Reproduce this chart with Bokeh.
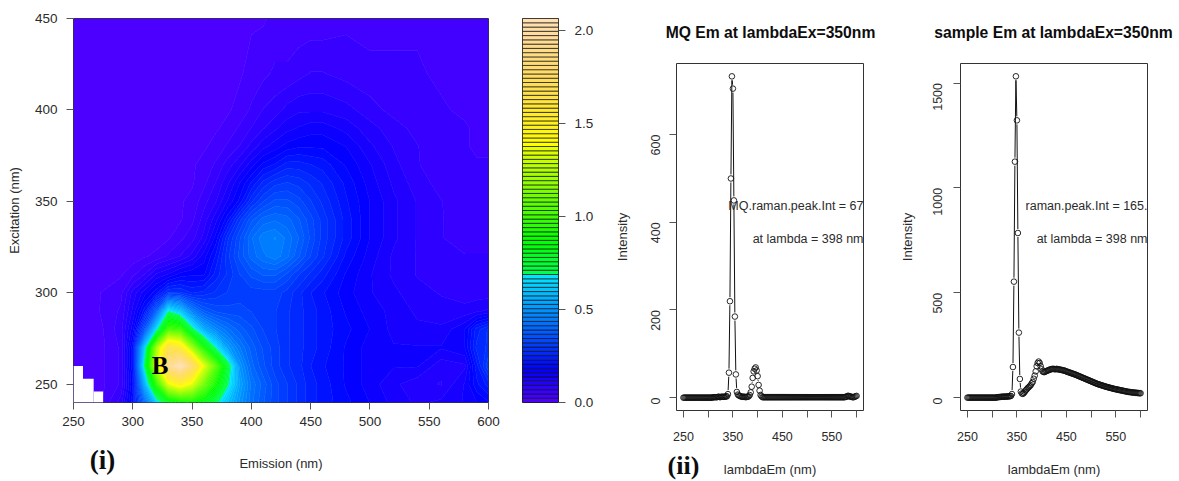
import colorsys
import math
from bokeh.embed import file_html
from bokeh.models import FixedTicker, Label, NumeralTickFormatter, Range1d
from bokeh.plotting import figure
from bokeh.resources import INLINE

# ---------- fluorescence map ----------
emission = [250,270,290,300,310,320,330,340,350,360,370,380,390,400,410,420,430,440,450,460,480,500,520,540,560,580,590,600]
excitation = [240,250,260,270,280,290,300,310,320,330,340,350,360,370,380,390,400,420,450]
z_240 = [.01,.01,.08,.20,.40,.62,.78,.85,.88,.82,.71,.60,.50,.42,.37,.33,.30,.27,.24,.22,.19,.16,.13,.11,.12,.14,.16,.18]
z_250 = [.01,.01,.05,.18,.55,.95,1.35,1.48,1.35,1.10,.90,.70,.53,.43,.38,.33,.30,.27,.24,.22,.18,.15,.12,.10,.09,.14,.20,.24]
z_260 = [.01,.01,.05,.20,.70,1.30,1.90,2.06,1.80,1.35,1.05,.75,.50,.40,.35,.31,.28,.26,.23,.21,.18,.15,.14,.14,.10,.11,.22,.32]
z_270 = [.01,.01,.05,.20,.62,1.20,1.65,1.55,1.20,.90,.68,.52,.44,.38,.34,.31,.28,.26,.24,.22,.18,.15,.14,.14,.14,.16,.26,.28]
z_280 = [.01,.01,.06,.15,.35,.65,1.00,.98,.72,.55,.47,.42,.38,.35,.32,.30,.28,.26,.24,.22,.19,.16,.13,.12,.12,.16,.24,.28]
z_290 = [.01,.02,.05,.12,.22,.38,.68,.60,.45,.37,.34,.33,.33,.32,.31,.30,.28,.26,.24,.22,.18,.15,.13,.11,.10,.10,.11,.12]
z_300 = [.01,.02,.04,.10,.15,.20,.28,.28,.25,.26,.28,.30,.31,.31,.31,.31,.29,.26,.23,.21,.17,.14,.12,.10,.09,.08,.08,.08]
z_310 = [.01,.01,.02,.04,.07,.12,.14,.17,.18,.18,.24,.28,.32,.35,.37,.37,.34,.30,.27,.24,.18,.14,.11,.09,.08,.07,.07,.07]
z_320 = [.01,.01,.01,.01,.02,.03,.05,.07,.10,.15,.21,.29,.35,.40,.43,.45,.42,.37,.32,.28,.20,.15,.11,.09,.08,.07,.07,.07]
z_330 = [.01,.01,.01,.01,.01,.01,.02,.04,.06,.10,.17,.27,.34,.41,.45,.46,.43,.39,.34,.29,.22,.16,.12,.09,.07,.06,.06,.06]
z_340 = [.01,.01,.01,.01,.01,.01,.01,.02,.04,.08,.13,.20,.29,.36,.40,.41,.40,.37,.33,.29,.22,.16,.12,.09,.07,.06,.05,.05]
z_350 = [.01,.01,.01,.01,.01,.01,.01,.02,.03,.06,.09,.14,.19,.27,.32,.35,.35,.33,.30,.27,.21,.16,.12,.09,.07,.05,.05,.05]
z_360 = [.01,.01,.01,.01,.01,.01,.01,.01,.02,.04,.07,.11,.16,.21,.26,.29,.30,.29,.27,.25,.20,.15,.11,.08,.06,.05,.05,.05]
z_370 = [.01,.01,.01,.01,.01,.01,.01,.01,.02,.03,.05,.08,.11,.15,.19,.21,.24,.24,.23,.22,.18,.14,.10,.07,.06,.05,.05,.05]
z_380 = [.01,.01,.01,.01,.01,.01,.01,.01,.01,.02,.03,.05,.07,.10,.13,.15,.17,.18,.18,.18,.16,.12,.09,.07,.05,.05,.04,.04]
z_390 = [.01,.01,.01,.01,.01,.01,.01,.01,.01,.01,.02,.03,.05,.07,.09,.11,.13,.14,.15,.15,.13,.10,.08,.06,.05,.05,.04,.04]
z_400 = [.01,.01,.01,.01,.01,.01,.01,.01,.01,.01,.01,.02,.03,.05,.07,.08,.10,.11,.11,.11,.10,.08,.06,.05,.05,.04,.04,.04]
z_420 = [.01,.01,.01,.01,.01,.01,.01,.01,.01,.01,.01,.01,.02,.03,.04,.05,.05,.06,.07,.07,.06,.05,.05,.05,.04,.04,.04,.04]
z_450 = [.01,.01,.01,.01,.01,.01,.01,.01,.01,.01,.01,.01,.01,.02,.02,.03,.03,.03,.03,.03,.04,.04,.04,.04,.04,.04,.04,.04]
z_rows = [z_240,z_250,z_260,z_270,z_280,z_290,z_300,z_310,z_320,z_330,z_340,z_350,z_360,z_370,z_380,z_390,z_400,z_420,z_450]
z_max = 2.065
n_levels = 90

mask_left = [250, 258, 267]
mask_right = [258, 267, 275]
mask_top = [260, 253, 246]

# ---------- emission scans, every 2 nm from 250 to 600 nm ----------
scan_em = list(range(250, 601, 2))
mq_intensity = [
    0,0,0,0,0,0,0,0,0,0,0,0,0,0,0,0,0,0,0,0,0,0,0,0,0,0,0,0,0,0,
    1,1,1,1,1,2,2,1,2,2,2,2,2,3,3,
    8,57,220,500,733,705,450,185,53,13,7,5,4,3,2,2,2,2,1,2,2,3,
    6,12,25,45,60,66,69,62,49,29,16,6,3,1,
    1,1,1,1,1,1,1,1,1,1,1,1,1,1,1,1,1,1,1,1,1,1,1,1,1,1,1,1,1,1,
    1,1,1,1,1,1,1,1,1,1,1,1,1,1,1,1,1,1,1,1,1,1,1,1,1,1,1,1,1,1,
    1,1,1,1,1,1,1,1,1,1,1,1,1,1,1,1,1,1,1,
    1,1,1,1,2,2,4,4,3,2,2,1,1,2,3,4]
sample_intensity = [
    0,0,0,0,0,0,0,0,0,0,0,0,0,0,0,0,0,0,0,0,0,0,0,0,0,0,0,0,0,0,
    2,2,3,3,4,4,5,4,5,5,5,6,6,7,8,
    17,146,553,1125,1532,1322,785,310,89,29,20,18,22,28,35,40,46,50,55,60,68,75,
    90,105,125,150,165,172,165,150,135,125,122,122,125,127,129,131,133,135,136,137,137,136,135,
    137,136,135,134,133,132,131,130,129,127,125,123,122,120,118,117,115,113,112,110,
    108,106,104,102,100,98,96,94,92,90,88,86,84,82,80,78,76,74,72,70,
    68,66,64,63,61,60,58,57,55,54,52,51,50,48,47,46,45,43,42,41,
    40,39,38,37,36,35,34,33,32,31,30,29,28,27,27,26,25,25,24,24,23,23,22,22,21,21]

mq_title = "MQ Em at lambdaEx=350nm"
sample_title = "sample Em at lambdaEx=350nm"
mq_note = "MQ.raman.peak.Int = 67"
sample_note = "raman.peak.Int = 165."
lambda_note = "at lambda = 398 nm"

FONT = "Liberation Sans"
SERIF = "Liberation Serif"
INK = "#2b2b2b"


def topo_colors(n):
    """R's topo.colors palette"""
    k = n // 3
    i = n - 2 * k
    out = []
    def lin(a, b, m, t):
        return a + (b - a) * t / (m - 1)
    for t in range(i):
        out.append((lin(43, 31, i, t) / 60, 1, 1))
    for t in range(k):
        out.append((lin(23, 11, k, t) / 60, 1, 1))
    for t in range(k):
        out.append((lin(10, 6, k, t) / 60, lin(1, .3, k, t), 1))
    res = []
    for h, s, v in out:
        r, g, b = colorsys.hsv_to_rgb(h, s, v)
        res.append("#%02X%02X%02X" % (round(r * 255), round(g * 255), round(b * 255)))
    return res


def style_axis(ax, size="13.5px"):
    ax.major_label_text_font = FONT
    ax.major_label_text_font_size = size
    ax.major_label_text_color = INK
    ax.axis_label_text_font = FONT
    ax.axis_label_text_font_size = "13px"
    ax.axis_label_text_font_style = "normal"
    ax.axis_label_text_color = INK
    ax.axis_line_color = None
    ax.major_tick_line_color = "#555555"
    ax.major_tick_in = 0
    ax.major_tick_out = 7
    ax.minor_tick_line_color = None


def place(left, top=8):
    return {"position": "absolute", "left": f"{left}px", "top": f"{top}px"}


levels = [z_max * t / n_levels for t in range(n_levels + 1)]
palette = topo_colors(n_levels)

# ---------- map ----------
heat = figure(width=515, height=473, x_range=Range1d(250, 600), y_range=Range1d(240, 450),
              output_backend="svg", toolbar_location=None, styles=place(0),
              min_border_left=73, min_border_right=27, min_border_top=10, min_border_bottom=79)
heat.contour(emission, excitation, z_rows, levels, fill_color=palette,
             line_color=palette + [palette[-1]], line_width=0.8)
heat.quad(left=mask_left, right=mask_right, bottom=240, top=mask_top, fill_color="white", line_color=None)
heat.grid.visible = False
heat.outline_line_color = "#333333"
style_axis(heat.xaxis[0])
style_axis(heat.yaxis[0])
heat.xaxis[0].ticker = FixedTicker(ticks=[250, 300, 350, 400, 450, 500, 550, 600])
heat.yaxis[0].ticker = FixedTicker(ticks=[250, 300, 350, 400, 450])
heat.xaxis[0].axis_label = "Emission (nm)"
heat.yaxis[0].axis_label = "Excitation (nm)"
heat.xaxis[0].major_label_standoff = 7
heat.xaxis[0].axis_label_standoff = 27
heat.yaxis[0].major_label_standoff = 9
heat.yaxis[0].axis_label_standoff = 10
heat.add_layout(Label(x=323, y=260, text="B", text_font=SERIF, text_font_style="bold", text_font_size="25px",
                      text_color="black", text_align="center", text_baseline="middle"))

# ---------- colour key ----------
key = figure(width=95, height=473, x_range=Range1d(0, 1), y_range=Range1d(0, z_max),
             output_backend="svg", toolbar_location=None, y_axis_location="right", styles=place(515),
             min_border_left=7, min_border_right=52, min_border_top=10, min_border_bottom=79)
key.quad(left=0, right=1, bottom=levels[:-1], top=levels[1:], fill_color=palette,
         line_color="#111111", line_alpha=0.85, line_width=0.8)
key.grid.visible = False
key.xaxis.visible = False
key.outline_line_color = "#222222"
style_axis(key.yaxis[0])
key.yaxis[0].ticker = FixedTicker(ticks=[0, .5, 1, 1.5, 2])
key.yaxis[0].formatter = NumeralTickFormatter(format="0.0")
key.yaxis[0].major_label_standoff = 9


def scan(page_left, width, left, right, em, inten, ylim, yticks, note, sub_y, tick_gap, label_gap):
    p = figure(width=width, height=461, x_range=Range1d(236, 614), y_range=Range1d(*ylim),
               output_backend="svg", toolbar_location=None, styles=place(page_left, 20),
               min_border_left=left, min_border_right=right, min_border_top=43, min_border_bottom=71)
    p.grid.visible = False
    p.outline_line_color = "#333333"
    # R "b" type: segments stop short of the points
    fw, fh = 187.0, 347.0
    sx = fw / (614 - 236)
    sy = fh / (ylim[1] - ylim[0])
    gap = 4.0
    x0, x1, y0, y1 = [], [], [], []
    for a, b, c, d in zip(em[:-1], em[1:], inten[:-1], inten[1:]):
        dx, dy = (b - a) * sx, (d - c) * sy
        L = math.hypot(dx, dy)
        if L <= 2 * gap:
            continue
        f = gap / L
        x0.append(a + (b - a) * f); x1.append(b - (b - a) * f)
        y0.append(c + (d - c) * f); y1.append(d - (d - c) * f)
    p.segment(x0, y0, x1, y1, line_color="#111111", line_width=1)
    p.scatter(em, inten, size=5.6, marker="circle", fill_color=None, line_color="#111111", line_width=0.9)
    xa, ya = p.xaxis[0], p.yaxis[0]
    style_axis(xa, "12.5px")
    style_axis(ya, "12.5px")
    xa.ticker = FixedTicker(ticks=[250, 300, 350, 400, 450, 500, 550, 600])
    xa.major_label_overrides = {300: "", 400: "", 500: "", 600: ""}
    ya.ticker = FixedTicker(ticks=yticks)
    ya.major_label_orientation = math.pi / 2
    xa.axis_label = "lambdaEm (nm)"
    ya.axis_label = "Intensity"
    xa.major_label_standoff = 14
    xa.axis_label_standoff = 18
    ya.major_label_standoff = tick_gap
    ya.axis_label_standoff = label_gap
    for txt, yv in ((note, sub_y[0]), (lambda_note, sub_y[1])):
        p.add_layout(Label(x=614, y=yv, text=txt, text_font=FONT, text_font_size="12.5px", text_color=INK,
                           text_align="right", text_baseline="middle"))
    return p


def floating_text(text, left, top, width, height, fy, size, font):
    t = figure(width=width, height=height, x_range=Range1d(0, 1), y_range=Range1d(0, 1),
               output_backend="svg", toolbar_location=None, styles=place(left, top),
               min_border_left=0, min_border_right=0, min_border_top=0, min_border_bottom=0)
    t.xaxis.visible = False
    t.yaxis.visible = False
    t.grid.visible = False
    t.outline_line_color = None
    t.background_fill_alpha = 0
    t.border_fill_alpha = 0
    t.add_layout(Label(x=.5, y=fy, text=text, text_font=font, text_font_style="bold", text_font_size=size,
                       text_color="#0d0d0d", text_align="center", text_baseline="middle"))
    return t


mq = scan(610, 285, 66, 32, scan_em, mq_intensity, (-29.3, 762.3), [0, 200, 400, 600], mq_note, (438, 361), 14, 14)
sample = scan(895, 284, 65, 32, scan_em, sample_intensity, (-61.3, 1593), [0, 500, 1000, 1500], sample_note, (914, 755), 16, 11)
title_mq = floating_text(mq_title, 650, 20, 240, 24, 0.5, "15.7px", FONT)
title_sample = floating_text(sample_title, 927, 20, 252, 24, 0.5, "15.7px", FONT)
tag_i = floating_text("(i)", 72, 438, 60, 43, 0.5, "27px", SERIF)
tag_ii = floating_text("(ii)", 653, 440, 60, 41, 0.39, "26px", SERIF)

open("out.html", "w").write(file_html([heat, key, mq, sample, title_mq, title_sample, tag_i, tag_ii], INLINE))
